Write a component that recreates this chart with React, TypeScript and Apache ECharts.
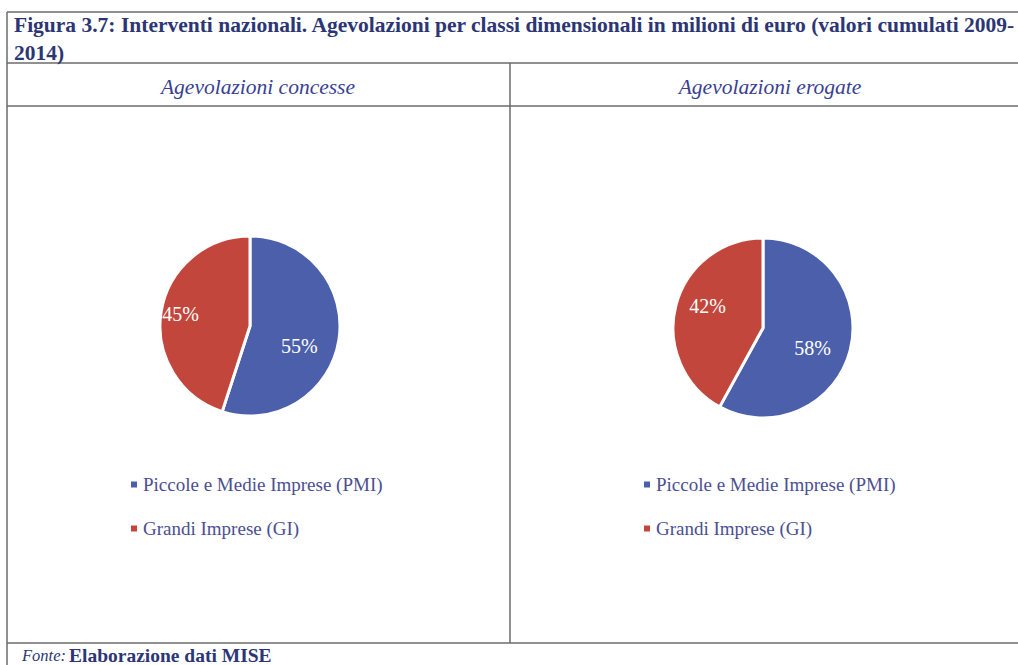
import React, { useEffect, useRef } from "react";
import * as echarts from "echarts";

const categories = ["Piccole e Medie Imprese (PMI)", "Grandi Imprese (GI)"];
const concesse = [55, 45];
const erogate = [58, 42];
const panelTitles = ["Agevolazioni concesse", "Agevolazioni erogate"];
const titleLine1 = "Figura 3.7: Interventi nazionali. Agevolazioni per classi dimensionali in milioni di euro (valori cumulati 2009-";
const titleLine2 = "2014)";

const BLUE = "#4b5fab";
const RED = "#c2463c";
const TEXT_BLUE = "#2c3674";
const SERIF = '"Liberation Serif", "DejaVu Serif", serif';

export default function App() {
  const ref = useRef<HTMLDivElement>(null);
  useEffect(() => {
    if (!ref.current) return;
    const chart = echarts.init(ref.current, undefined, { renderer: "svg" });
    const lineStyle = { stroke: "#6b6b6b", lineWidth: 1.5 };
    const mkLine = (x1: number, y1: number, x2: number, y2: number) => ({
      type: "line",
      shape: { x1, y1, x2, y2 },
      style: lineStyle,
      silent: true,
    });
    const mkPie = (vals: number[], center: [number, number], offsets: number[][]) => ({
      type: "pie",
      center,
      radius: 90,
      startAngle: 90,
      clockwise: true,
      data: categories.map((c, i) => ({
        name: c,
        value: vals[i],
        label: { offset: offsets[i] },
      })),
      itemStyle: { borderColor: "#ffffff", borderWidth: 3 },
      label: {
        show: true,
        position: "inside",
        formatter: "{c}%",
        color: "#ffffff",
        fontFamily: SERIF,
        fontSize: 20,
      },
      labelLine: { show: false },
      emphasis: { disabled: true },
    });
    const mkLegend = (left: number) => ({
      orient: "vertical",
      left,
      top: 470,
      data: categories,
      icon: "rect",
      itemWidth: 8,
      itemHeight: 8,
      itemGap: 25,
      selectedMode: false,
      textStyle: { fontFamily: SERIF, fontSize: 19, color: "#4b4f92" },
    });
    const txt = (x: number, y: number, text: string, font: string, align: string, fill: string) => ({
      type: "text",
      silent: true,
      style: { x, y, text, fill, font, textAlign: align, textVerticalAlign: "middle" },
    });
    chart.setOption({
      animation: false,
      color: [BLUE, RED],
      legend: [mkLegend(124), mkLegend(637)],
      series: [
        mkPie(concesse, [250, 326], [[2, 12], [-22, -4]]),
        mkPie(erogate, [763, 328], [[3, 8], [-9, -10]]),
      ],
      graphic: [
        mkLine(7, 12, 1018, 12),
        mkLine(7, 12, 7, 665),
        mkLine(7, 63, 1018, 63),
        mkLine(7, 106, 1018, 106),
        mkLine(7, 643, 1018, 643),
        mkLine(510, 63, 510, 643),
        txt(14, 25, titleLine1, `bold 21.5px ${SERIF}`, "left", TEXT_BLUE),
        txt(14, 53, titleLine2, `bold 21.5px ${SERIF}`, "left", TEXT_BLUE),
        txt(258, 87, panelTitles[0], `italic 21.5px ${SERIF}`, "center", "#3a3f92"),
        txt(770, 87, panelTitles[1], `italic 21.5px ${SERIF}`, "center", "#3a3f92"),
        txt(22, 655, "Fonte:", `italic 16.5px ${SERIF}`, "left", TEXT_BLUE),
        txt(69, 655, "Elaborazione dati MISE", `bold 19.5px ${SERIF}`, "left", TEXT_BLUE),
      ],
    });
    return () => chart.dispose();
  }, []);
  return (
    <div
      ref={ref}
      style={{ position: "absolute", left: 0, top: 0, width: 1018, height: 665, background: "#ffffff" }}
    />
  );
}
